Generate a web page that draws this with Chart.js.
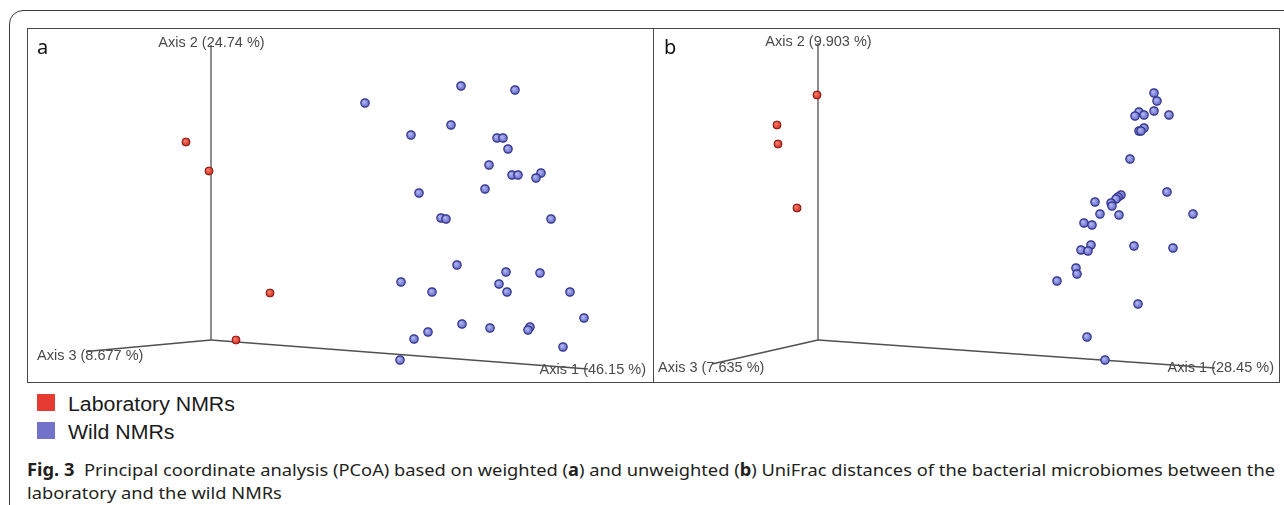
<!DOCTYPE html>
<html>
<head>
<meta charset="utf-8">
<script src="https://cdn.jsdelivr.net/npm/chart.js@4.4.1/dist/chart.umd.min.js"></script>
<style>
  body { margin: 0; width: 1284px; height: 505px; overflow: hidden; background: #fff; position: relative; font-family: "Liberation Sans", Arial, sans-serif; }
  #frame { position: absolute; left: 9px; top: 10px; width: 1330px; height: 560px; border: 1.5px solid #3a3a3a; border-radius: 14px; }
  .panel { position: absolute; top: 28px; width: 627px; height: 355px; box-sizing: border-box; border: 1px solid #484848; }
  .panel canvas { position: absolute; left: 0; top: 0; }
  .letter { position: absolute; font-family: "Noto Sans", sans-serif; font-size: 20px; color: #111; line-height: 1; }
  #legend { position: absolute; left: 37px; top: 394px; }
  .item { position: relative; height: 28px; font-size: 20px; line-height: 20px; color: #1a1a1a; }
  .item i { position: absolute; left: 0; top: 0; width: 18px; height: 17px; }
  .item span { position: absolute; left: 31px; top: 0; white-space: nowrap; transform: scaleX(1.065); transform-origin: 0 50%; }
  .cap { position: absolute; left: 27px; font-family: "Noto Sans", sans-serif; font-size: 17px; line-height: 17px; color: #231f20; white-space: nowrap; transform-origin: 0 50%; }
</style>
</head>
<body>
<div id="frame"></div>
<div class="panel" style="left:27px"><canvas id="chartA" width="625" height="353"></canvas></div>
<div class="panel" style="left:653px"><canvas id="chartB" width="625" height="353"></canvas></div>
<div class="letter" style="left:37px;top:37px">a</div>
<div class="letter" style="left:664px;top:37px">b</div>
<div id="legend"></div>
<div class="cap" id="cap1" style="top:460.5px"><b>Fig. 3</b>&nbsp; Principal coordinate analysis (PCoA) based on weighted (<b>a</b>) and unweighted (<b>b</b>) UniFrac distances of the bacterial microbiomes between the</div>
<div class="cap" id="cap2" style="top:483.5px">laboratory and the wild NMRs</div>

<script>
// groups and colours
const groups = ['Laboratory NMRs', 'Wild NMRs']
const groupColors = ['#e53b33', '#7272c9']

// axis titles
const axisNamesA = ['Axis 1 (46.15 %)', 'Axis 2 (24.74 %)', 'Axis 3 (8.677 %)']
const axisNamesB = ['Axis 1 (28.45 %)', 'Axis 2 (9.903 %)', 'Axis 3 (7.635 %)']

// projected axis ends (origin at 0,0)
const axisEndsA = [[0.377, -0.029], [0, 0.295], [-0.125, -0.0115]]
const axisEndsB = [[0.397, -0.028], [0, 0.297], [-0.106, -0.024]]

// a: weighted UniFrac, projected coordinates
const labA = [[-0.025, 0.198], [-0.002, 0.169], [0.059, 0.047], [0.025, 0.000]]
const wildA = [
  [0.154, 0.237], [0.250, 0.254], [0.304, 0.250], [0.200, 0.205], [0.240, 0.215],
  [0.286, 0.202], [0.292, 0.202], [0.297, 0.191], [0.278, 0.175], [0.301, 0.165],
  [0.307, 0.165], [0.330, 0.167], [0.325, 0.162], [0.274, 0.151], [0.208, 0.147],
  [0.230, 0.122], [0.235, 0.121], [0.340, 0.121], [0.246, 0.075], [0.295, 0.068],
  [0.329, 0.067], [0.190, 0.058], [0.288, 0.056], [0.221, 0.048], [0.296, 0.048],
  [0.359, 0.048], [0.373, 0.022], [0.251, 0.016], [0.279, 0.012], [0.319, 0.013],
  [0.317, 0.010], [0.217, 0.008], [0.203, 0.001], [0.352, -0.007], [0.189, -0.020]
]

// b: unweighted UniFrac, projected coordinates
const labB = [[-0.001, 0.245], [-0.041, 0.215], [-0.040, 0.196], [-0.021, 0.132]]
const wildB = [
  [0.336, 0.247], [0.339, 0.239], [0.321, 0.228], [0.317, 0.224], [0.326, 0.225],
  [0.336, 0.229], [0.351, 0.225], [0.326, 0.212], [0.321, 0.209], [0.323, 0.209],
  [0.312, 0.181], [0.349, 0.148], [0.303, 0.145], [0.300, 0.143], [0.298, 0.141],
  [0.277, 0.138], [0.293, 0.137], [0.294, 0.134], [0.375, 0.126], [0.282, 0.126],
  [0.301, 0.125], [0.266, 0.117], [0.274, 0.115], [0.273, 0.095], [0.263, 0.090],
  [0.270, 0.089], [0.316, 0.094], [0.355, 0.092], [0.258, 0.072], [0.259, 0.066],
  [0.239, 0.059], [0.320, 0.036], [0.269, 0.003], [0.287, -0.020]
]

const pts = arr => arr.map(p => ({ x: p[0], y: p[1] }))

// shaded ball look for the markers
function ball(base, light) {
  return function (c) {
    if (c.type !== 'data') return base
    let ch = c.chart
    let px = ch.scales.x.getPixelForValue(c.raw.x)
    let py = ch.scales.y.getPixelForValue(c.raw.y)
    if (!isFinite(px) || !isFinite(py)) return base
    let g = ch.ctx.createRadialGradient(px - 1.2, py - 1.2, 0.3, px, py, 4.5)
    g.addColorStop(0, light)
    g.addColorStop(1, base)
    return g
  }
}

function axisLine(a, b) {
  return {
    type: 'line', data: pts([a, b]), borderColor: '#505050', borderWidth: 1.3,
    pointRadius: 0, fill: false, order: 5, clip: false
  }
}

function makeChart(id, lab, wild, ends, names, view, labelPos) {
  let axisText = {
    id: 'axisText',
    beforeDatasetsDraw(chart) {
      let { ctx, scales: { x, y } } = chart
      ctx.save()
      ctx.font = '14.5px "Liberation Sans", Arial, sans-serif'
      ctx.fillStyle = '#4a4a4a'
      ctx.textBaseline = 'middle'
      names.forEach((n, i) => {
        ctx.textAlign = labelPos[i].align
        ctx.fillText(n, x.getPixelForValue(labelPos[i].at[0]), y.getPixelForValue(labelPos[i].at[1]))
      })
      ctx.restore()
    }
  }

  return new Chart(document.getElementById(id), {
    type: 'scatter',
    data: {
      datasets: [
        {
          label: groups[0], data: pts(lab), order: 0,
          backgroundColor: ball('#cf2318', '#f5806f'), borderColor: '#8c160e', borderWidth: 1,
          pointRadius: 4, pointHoverRadius: 4
        },
        {
          label: groups[1], data: pts(wild), order: 1,
          backgroundColor: ball('#5e63c4', '#b6b9f2'), borderColor: '#30338a', borderWidth: 1.2,
          pointRadius: 4.2, pointHoverRadius: 4.2
        },
        axisLine([0, 0], ends[0]),
        axisLine([0, 0], ends[1]),
        axisLine([0, 0], ends[2])
      ]
    },
    options: {
      responsive: false,
      animation: false,
      devicePixelRatio: 1,
      layout: { padding: 0, autoPadding: false },
      scales: {
        x: { type: 'linear', display: false, min: view.x[0], max: view.x[1] },
        y: { type: 'linear', display: false, min: view.y[0], max: view.y[1] }
      },
      plugins: { legend: { display: false }, tooltip: { enabled: false } }
    },
    plugins: [axisText]
  })
}

makeChart('chartA', labA, wildA, axisEndsA, axisNamesA,
  { x: [-0.183, 0.442], y: [-0.042, 0.311] },
  [{ at: [0.435, -0.030], align: 'right' }, { at: [0.0005, 0.2975], align: 'center' }, { at: [-0.174, -0.0155], align: 'left' }])

makeChart('chartB', labB, wildB, axisEndsB, axisNamesB,
  { x: [-0.164, 0.461], y: [-0.042, 0.311] },
  [{ at: [0.456, -0.028], align: 'right' }, { at: [0.0005, 0.298], align: 'center' }, { at: [-0.160, -0.028], align: 'left' }])

// legend below the panels
let legend = document.getElementById('legend')
groups.forEach((g, i) => {
  let row = document.createElement('div')
  row.className = 'item'
  row.innerHTML = '<i style="background:' + groupColors[i] + '"></i><span>' + g + '</span>'
  legend.appendChild(row)
})

// squeeze caption to the printed width
let cap1 = document.getElementById('cap1')
let cap2 = document.getElementById('cap2')
let k = 1248 / cap1.getBoundingClientRect().width
cap1.style.transform = 'scaleX(' + k + ')'
cap2.style.transform = 'scaleX(' + k + ')'
</script>
</body>
</html>
